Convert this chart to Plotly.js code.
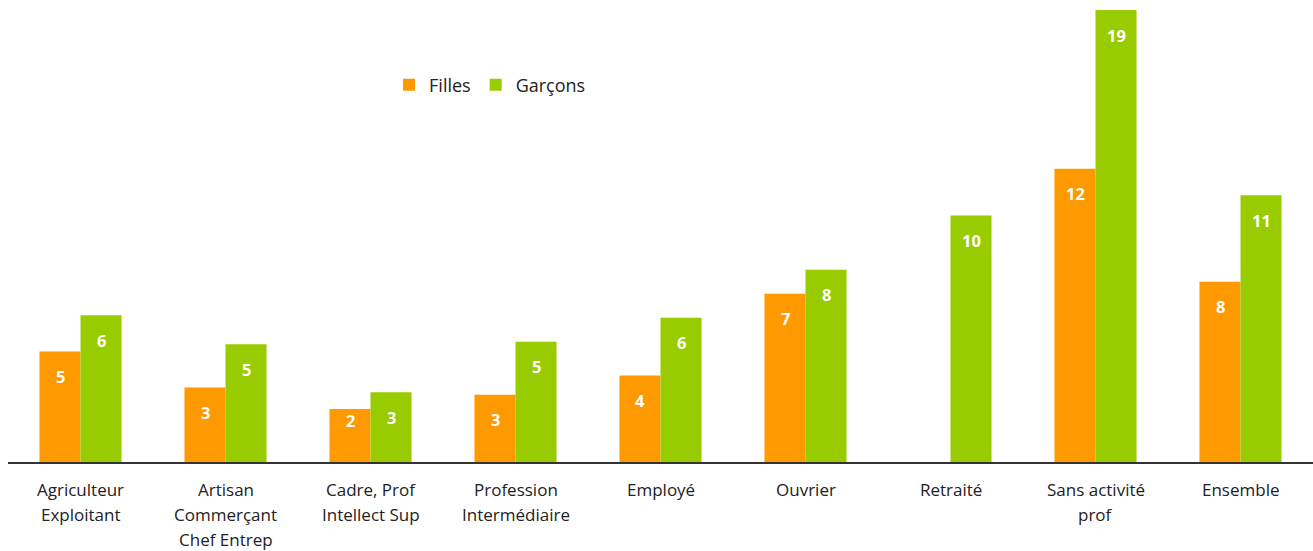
<!DOCTYPE html>
<html>
<head>
<meta charset="utf-8">
<script src="https://cdn.plot.ly/plotly-3.0.1.min.js"></script>
<style>html,body{margin:0;padding:0;background:#fff;}#chart{width:1313px;height:551px;}</style>
</head>
<body>
<div id="chart"></div>
<script>
const categories = ["Agriculteur\nExploitant", "Artisan\nCommerçant\nChef Entrep", "Cadre, Prof\nIntellect Sup", "Profession\nIntermédiaire", "Employé", "Ouvrier", "Retraité", "Sans activité\nprof", "Ensemble"];
const filles  = [4.6, 3.1, 2.2, 2.8, 3.6, 7.0, null, 12.2, 7.5];
const garcons = [6.1, 4.9, 2.9, 5.0, 6.0, 8.0, 10.25, 18.8, 11.1];
const seriesNames = ["Filles", "Garçons"];
const colors = ["#FF9900", "#99CC00"];

const W = 1313, H = 551;
const margin = {l: 8, r: 0, t: 10, b: 89};
const yMax = 18.8;
const plotH = H - margin.t - margin.b;
const pxPerUnit = plotH / yMax;
const FONT = "'Open Sans', Lato, sans-serif";

const keys = categories.map((c, i) => "c" + i);

const traces = [filles, garcons].map((vals, s) => ({
  type: "bar",
  name: seriesNames[s],
  x: keys,
  y: vals,
  marker: {color: colors[s], line: {width: 0}},
  hoverinfo: "skip"
}));

const annotations = [];
[filles, garcons].forEach((vals, s) => {
  vals.forEach((v, i) => {
    if (v === null) return;
    const hpx = v * pxPerUnit;
    annotations.push({
      x: keys[i], y: v, xref: "x", yref: "y",
      text: "<b>" + Math.round(v) + "</b>",
      showarrow: false,
      xshift: s === 0 ? -20.5 : 20.5,
      yshift: -Math.min(25, hpx - 42),
      font: {family: FONT, size: 16.5, color: "#ffffff"},
      xanchor: "center", yanchor: "middle"
    });
  });
});

categories.forEach((c, i) => {
  c.split("\n").forEach((line, j) => {
    annotations.push({
      x: keys[i], y: 0, xref: "x", yref: "y",
      text: line, showarrow: false,
      yshift: -(27.5 + j * 25),
      font: {family: FONT, size: 17, color: "#222222"},
      xanchor: "center", yanchor: "middle"
    });
  });
});

const layout = {
  width: W, height: H,
  margin: margin,
  paper_bgcolor: "#ffffff",
  plot_bgcolor: "#ffffff",
  barmode: "group",
  bargap: 0.434,
  bargroupgap: 0,
  showlegend: true,
  legend: {
    orientation: "h",
    x: 0.292, y: 0.875, xanchor: "left", yanchor: "top",
    font: {family: FONT, size: 18, color: "#222222"},
    bgcolor: "rgba(0,0,0,0)",
    traceorder: "normal"
  },
  xaxis: {
    type: "category",
    showticklabels: false,
    showline: true, linecolor: "#333333", linewidth: 1.5,
    ticks: "", showgrid: false, zeroline: false,
    fixedrange: true
  },
  yaxis: {
    range: [0, yMax],
    visible: false,
    showgrid: false, zeroline: false,
    fixedrange: true
  },
  annotations: annotations
};

Plotly.newPlot("chart", traces, layout, {displayModeBar: false, staticPlot: true});
</script>
</body>
</html>
